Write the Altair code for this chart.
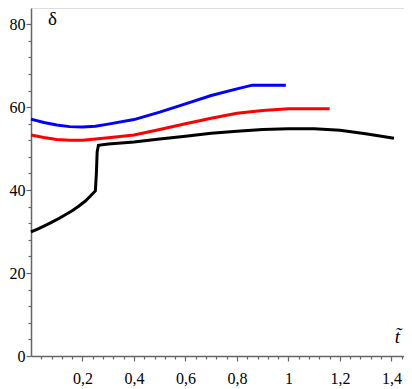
import altair as alt
import pandas as pd

# Series
blue_x = [0.0, 0.05, 0.10, 0.15, 0.20, 0.25, 0.30, 0.40, 0.50, 0.60, 0.70, 0.80, 0.86, 0.99]
blue_y = [57.1, 56.3, 55.7, 55.3, 55.2, 55.4, 55.9, 57.0, 58.8, 60.8, 62.8, 64.4, 65.3, 65.3]

red_x = [0.0, 0.05, 0.10, 0.15, 0.20, 0.25, 0.30, 0.40, 0.50, 0.60, 0.70, 0.80, 0.90, 1.00, 1.10, 1.16]
red_y = [53.3, 52.7, 52.2, 52.0, 52.0, 52.3, 52.6, 53.3, 54.6, 56.0, 57.3, 58.5, 59.2, 59.6, 59.6, 59.6]

black_x = [0.0, 0.03, 0.06, 0.085, 0.11, 0.135, 0.16, 0.185, 0.21, 0.23, 0.25, 0.254, 0.257, 0.262,
           0.30, 0.40, 0.50, 0.60, 0.70, 0.80, 0.90, 1.00, 1.10, 1.20, 1.30, 1.41]
black_y = [29.9, 30.7, 31.6, 32.4, 33.2, 34.1, 35.0, 36.1, 37.3, 38.5, 39.8, 44.0, 49.2, 50.8,
           51.1, 51.6, 52.3, 53.0, 53.7, 54.2, 54.6, 54.8, 54.8, 54.4, 53.6, 52.5]

series_names = ["blue", "red", "black"]
series_colors = ["#0000ff", "#ff0000", "#000000"]

x_ticks = [round(i * 0.04, 2) for i in range(1, 37)]
y_ticks = list(range(0, 84, 4))

rows = []
for name, xs, ys in [("blue", blue_x, blue_y), ("red", red_x, red_y), ("black", black_x, black_y)]:
    for i, (a, b) in enumerate(zip(xs, ys)):
        rows.append({"s": name, "x": a, "y": b, "o": i})
df = pd.DataFrame(rows)

FONT = "Liberation Serif, Times New Roman, serif"

axis_common = dict(
    grid=False,
    labelFont=FONT,
    labelFontSize=16,
    labelColor="#000000",
    domainColor="#666666",
    domainWidth=1.5,
    tickColor="#666666",
    tickWidth=1.2,
    titleFont=FONT,
    titleFontSize=19,
    titleFontWeight="normal",
    titleColor="#000000",
)

x_axis = alt.Axis(
    values=x_ticks,
    labelExpr="abs(datum.value*5 - round(datum.value*5)) < 1e-6 ? replace(toString(round(datum.value*10)/10), '.', ',') : ''",
    tickSize={"condition": {"test": "abs(datum.value*5 - round(datum.value*5)) < 1e-6", "value": 5}, "value": 3},
    labelPadding=9,
    labelFlush=False,
    labelOverlap=False,
    title="t\u0303",
    titleFontStyle="italic",
    titleAngle=0,
    titleAlign="center",
    titleBaseline="middle",
    titleX=366,
    titleY=-20,
    **axis_common,
)

y_axis = alt.Axis(
    values=y_ticks,
    labelExpr="datum.value % 20 === 0 ? datum.label : ''",
    tickSize={"condition": {"test": "datum.value % 20 === 0", "value": 5}, "value": 3},
    labelPadding=1,
    labelOverlap=False,
    title="\u03b4",
    titleAngle=0,
    titleAlign="center",
    titleBaseline="middle",
    titleX=21,
    titleY=10,
    **axis_common,
)

chart = alt.Chart(df).mark_line(strokeWidth=3, interpolate="linear").encode(
    x=alt.X("x:Q", scale=alt.Scale(domain=[0, 1.449], nice=False, zero=False), axis=x_axis),
    y=alt.Y("y:Q", scale=alt.Scale(domain=[0, 83.9], nice=False, zero=False), axis=y_axis),
    color=alt.Color("s:N", scale=alt.Scale(domain=series_names, range=series_colors), legend=None),
    order="o:Q",
    detail="s:N",
).properties(
    width=373,
    height=348,
    autosize=alt.AutoSizeParams(type="none"),
    padding={"left": 23, "top": 0, "right": 0, "bottom": 32},
).configure_view(stroke=None).configure(background="white", font=FONT)

chart.save("out.html", embed_options={"renderer": "svg", "actions": False})
